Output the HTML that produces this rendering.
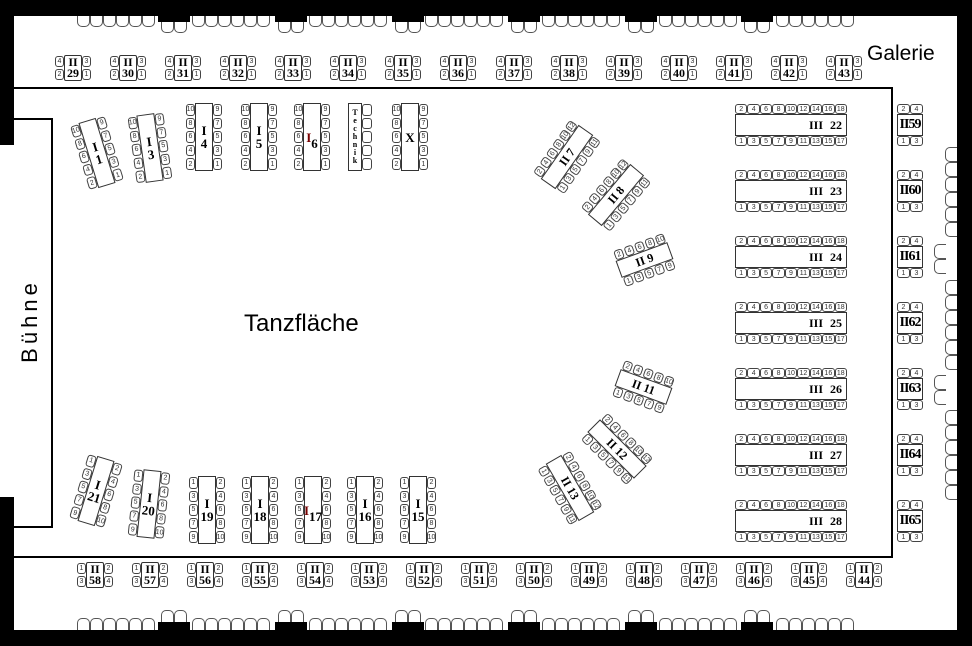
<!DOCTYPE html>
<html><head><meta charset="utf-8"><style>
*{box-sizing:border-box;margin:0;padding:0}
body{width:972px;height:646px;position:relative;background:#fff;overflow:hidden;font-family:"Liberation Sans",sans-serif}
.a{position:absolute}
.k{position:absolute;background:#000}
i{font-style:normal;border:1px solid #444;border-radius:3px;font-size:7px;line-height:9px;text-align:center;background:#fff;color:#333;overflow:hidden;display:flex;align-items:center;justify-content:center}
b{font-family:"Liberation Serif",serif;color:#000;display:flex;align-items:center;justify-content:center;text-align:center}
.g{position:absolute;width:36px;height:26px;display:grid;grid-template-columns:9px 18px 9px;grid-template-rows:13px 13px;grid-auto-flow:column}
.g i{margin:1px 0}
.g b{grid-row:span 2;border:1px solid #333;border-radius:2px;font-size:12px;line-height:11px;font-weight:bold}
.v{position:absolute;width:26px;height:42px;display:grid;grid-template-columns:13px 13px;grid-template-rows:10px 22px 10px}
.v b{grid-column:span 2;border:1px solid #333;font-size:14px;font-weight:bold;letter-spacing:-1px}
.w{position:absolute;width:112px;height:42px;display:grid;grid-template-columns:repeat(9,1fr);grid-template-rows:10px 22px 10px}
.w b{grid-column:span 9;border:1px solid #333;font-size:12px;font-weight:bold;justify-content:flex-end;padding-right:4px;word-spacing:4px}
.t{position:absolute;width:36px;height:68px;display:grid;grid-template-columns:9px 18px 9px;grid-template-rows:repeat(5,1fr);grid-auto-flow:column}
.t i{margin:1px 0}
.t b{grid-row:span 5;border:1px solid #333;font-size:13px;line-height:13px;font-weight:bold}
.h{position:absolute;display:grid;grid-template-rows:10px 18px 10px}
.h i{margin:0 1px}
.h b{border:1px solid #333;font-size:12px;font-weight:bold}
.cr{position:absolute;display:flex}
.cr span{width:13px;height:11px;border:1px solid #555;border-top:none;border-radius:0 0 5px 5px;background:#fff}
.cb{position:absolute;display:flex}
.cb span{width:13px;height:12px;border:1px solid #555;border-bottom:none;border-radius:5px 5px 0 0;background:#fff}
.cv{position:absolute;display:flex;flex-direction:column}
.cv span{width:12px;height:15px;border:1px solid #555;border-right:none;border-radius:5px 0 0 5px;background:#fff}
</style></head><body>

<div class="a" style="left:10px;top:87px;width:883px;height:471px;border:2px solid #000"></div>
<div class="a" style="left:-2px;top:118px;width:55px;height:410px;border:2px solid #000;background:#fff"></div>
<div class="a" style="left:-30px;top:308px;width:120px;height:26px;transform:rotate(-90deg);font-size:22px;letter-spacing:4px;text-align:center;line-height:26px">Bühne</div>

<div class="k" style="left:0;top:0;width:972px;height:16px"></div>
<div class="k" style="left:0;top:630px;width:972px;height:16px"></div>
<div class="k" style="left:0;top:0;width:14px;height:145px"></div>
<div class="k" style="left:0;top:497px;width:14px;height:149px"></div>
<div class="k" style="left:957px;top:0;width:15px;height:646px"></div>

<div class="cr" style="left:77px;top:16px"><span></span><span></span><span></span><span></span><span></span><span></span></div>
<div class="cr" style="left:192px;top:16px"><span></span><span></span><span></span><span></span><span></span><span></span></div>
<div class="cr" style="left:309px;top:16px"><span></span><span></span><span></span><span></span><span></span><span></span></div>
<div class="cr" style="left:425px;top:16px"><span></span><span></span><span></span><span></span><span></span><span></span></div>
<div class="cr" style="left:542px;top:16px"><span></span><span></span><span></span><span></span><span></span><span></span></div>
<div class="cr" style="left:659px;top:16px"><span></span><span></span><span></span><span></span><span></span><span></span></div>
<div class="cr" style="left:776px;top:16px"><span></span><span></span><span></span><span></span><span></span><span></span></div>
<div class="cr" style="left:161px;top:22px"><span></span><span></span></div>
<div class="cr" style="left:278px;top:22px"><span></span><span></span></div>
<div class="cr" style="left:395px;top:22px"><span></span><span></span></div>
<div class="cr" style="left:511px;top:22px"><span></span><span></span></div>
<div class="cr" style="left:628px;top:22px"><span></span><span></span></div>
<div class="cr" style="left:744px;top:22px"><span></span><span></span></div>
<div class="k" style="left:158px;top:16px;width:32px;height:6px"></div>
<div class="k" style="left:275px;top:16px;width:32px;height:6px"></div>
<div class="k" style="left:392px;top:16px;width:32px;height:6px"></div>
<div class="k" style="left:508px;top:16px;width:32px;height:6px"></div>
<div class="k" style="left:625px;top:16px;width:32px;height:6px"></div>
<div class="k" style="left:741px;top:16px;width:32px;height:6px"></div>

<div class="cb" style="left:77px;top:618px"><span></span><span></span><span></span><span></span><span></span><span></span></div>
<div class="cb" style="left:192px;top:618px"><span></span><span></span><span></span><span></span><span></span><span></span></div>
<div class="cb" style="left:309px;top:618px"><span></span><span></span><span></span><span></span><span></span><span></span></div>
<div class="cb" style="left:425px;top:618px"><span></span><span></span><span></span><span></span><span></span><span></span></div>
<div class="cb" style="left:542px;top:618px"><span></span><span></span><span></span><span></span><span></span><span></span></div>
<div class="cb" style="left:659px;top:618px"><span></span><span></span><span></span><span></span><span></span><span></span></div>
<div class="cb" style="left:776px;top:618px"><span></span><span></span><span></span><span></span><span></span><span></span></div>
<div class="cb" style="left:161px;top:610px"><span></span><span></span></div>
<div class="cb" style="left:278px;top:610px"><span></span><span></span></div>
<div class="cb" style="left:395px;top:610px"><span></span><span></span></div>
<div class="cb" style="left:511px;top:610px"><span></span><span></span></div>
<div class="cb" style="left:628px;top:610px"><span></span><span></span></div>
<div class="cb" style="left:744px;top:610px"><span></span><span></span></div>
<div class="k" style="left:158px;top:622px;width:32px;height:8px"></div>
<div class="k" style="left:275px;top:622px;width:32px;height:8px"></div>
<div class="k" style="left:392px;top:622px;width:32px;height:8px"></div>
<div class="k" style="left:508px;top:622px;width:32px;height:8px"></div>
<div class="k" style="left:625px;top:622px;width:32px;height:8px"></div>
<div class="k" style="left:741px;top:622px;width:32px;height:8px"></div>

<div class="cv" style="left:945px;top:147px"><span></span><span></span><span></span><span></span><span></span><span></span></div>
<div class="cv" style="left:934px;top:244px"><span></span><span></span></div>
<div class="cv" style="left:945px;top:280px"><span></span><span></span><span></span><span></span><span></span><span></span></div>
<div class="cv" style="left:934px;top:375px"><span></span><span></span></div>
<div class="cv" style="left:945px;top:410px"><span></span><span></span><span></span><span></span><span></span><span></span></div>

<div class="a" style="left:867px;top:42px;font-size:21px">Galerie</div>
<div class="a" style="left:244px;top:310px;font-size:24px">Tanzfläche</div>

<div class="g" style="left:55px;top:55px"><i>4</i><i>2</i><b>II<br>29</b><i>3</i><i>1</i></div>
<div class="g" style="left:110px;top:55px"><i>4</i><i>2</i><b>II<br>30</b><i>3</i><i>1</i></div>
<div class="g" style="left:165px;top:55px"><i>4</i><i>2</i><b>II<br>31</b><i>3</i><i>1</i></div>
<div class="g" style="left:220px;top:55px"><i>4</i><i>2</i><b>II<br>32</b><i>3</i><i>1</i></div>
<div class="g" style="left:275px;top:55px"><i>4</i><i>2</i><b>II<br>33</b><i>3</i><i>1</i></div>
<div class="g" style="left:330px;top:55px"><i>4</i><i>2</i><b>II<br>34</b><i>3</i><i>1</i></div>
<div class="g" style="left:385px;top:55px"><i>4</i><i>2</i><b>II<br>35</b><i>3</i><i>1</i></div>
<div class="g" style="left:440px;top:55px"><i>4</i><i>2</i><b>II<br>36</b><i>3</i><i>1</i></div>
<div class="g" style="left:496px;top:55px"><i>4</i><i>2</i><b>II<br>37</b><i>3</i><i>1</i></div>
<div class="g" style="left:551px;top:55px"><i>4</i><i>2</i><b>II<br>38</b><i>3</i><i>1</i></div>
<div class="g" style="left:606px;top:55px"><i>4</i><i>2</i><b>II<br>39</b><i>3</i><i>1</i></div>
<div class="g" style="left:661px;top:55px"><i>4</i><i>2</i><b>II<br>40</b><i>3</i><i>1</i></div>
<div class="g" style="left:716px;top:55px"><i>4</i><i>2</i><b>II<br>41</b><i>3</i><i>1</i></div>
<div class="g" style="left:771px;top:55px"><i>4</i><i>2</i><b>II<br>42</b><i>3</i><i>1</i></div>
<div class="g" style="left:826px;top:55px"><i>4</i><i>2</i><b>II<br>43</b><i>3</i><i>1</i></div>

<div class="g" style="left:77px;top:562px"><i>1</i><i>3</i><b>II<br>58</b><i>2</i><i>4</i></div>
<div class="g" style="left:132px;top:562px"><i>1</i><i>3</i><b>II<br>57</b><i>2</i><i>4</i></div>
<div class="g" style="left:187px;top:562px"><i>1</i><i>3</i><b>II<br>56</b><i>2</i><i>4</i></div>
<div class="g" style="left:242px;top:562px"><i>1</i><i>3</i><b>II<br>55</b><i>2</i><i>4</i></div>
<div class="g" style="left:297px;top:562px"><i>1</i><i>3</i><b>II<br>54</b><i>2</i><i>4</i></div>
<div class="g" style="left:351px;top:562px"><i>1</i><i>3</i><b>II<br>53</b><i>2</i><i>4</i></div>
<div class="g" style="left:406px;top:562px"><i>1</i><i>3</i><b>II<br>52</b><i>2</i><i>4</i></div>
<div class="g" style="left:461px;top:562px"><i>1</i><i>3</i><b>II<br>51</b><i>2</i><i>4</i></div>
<div class="g" style="left:516px;top:562px"><i>1</i><i>3</i><b>II<br>50</b><i>2</i><i>4</i></div>
<div class="g" style="left:571px;top:562px"><i>1</i><i>3</i><b>II<br>49</b><i>2</i><i>4</i></div>
<div class="g" style="left:626px;top:562px"><i>1</i><i>3</i><b>II<br>48</b><i>2</i><i>4</i></div>
<div class="g" style="left:681px;top:562px"><i>1</i><i>3</i><b>II<br>47</b><i>2</i><i>4</i></div>
<div class="g" style="left:736px;top:562px"><i>1</i><i>3</i><b>II<br>46</b><i>2</i><i>4</i></div>
<div class="g" style="left:791px;top:562px"><i>1</i><i>3</i><b>II<br>45</b><i>2</i><i>4</i></div>
<div class="g" style="left:846px;top:562px"><i>1</i><i>3</i><b>II<br>44</b><i>2</i><i>4</i></div>

<div class="w" style="left:735px;top:104px"><i>2</i><i>4</i><i>6</i><i>8</i><i>10</i><i>12</i><i>14</i><i>16</i><i>18</i><b>III 22</b><i>1</i><i>3</i><i>5</i><i>7</i><i>9</i><i>11</i><i>13</i><i>15</i><i>17</i></div>
<div class="w" style="left:735px;top:170px"><i>2</i><i>4</i><i>6</i><i>8</i><i>10</i><i>12</i><i>14</i><i>16</i><i>18</i><b>III 23</b><i>1</i><i>3</i><i>5</i><i>7</i><i>9</i><i>11</i><i>13</i><i>15</i><i>17</i></div>
<div class="w" style="left:735px;top:236px"><i>2</i><i>4</i><i>6</i><i>8</i><i>10</i><i>12</i><i>14</i><i>16</i><i>18</i><b>III 24</b><i>1</i><i>3</i><i>5</i><i>7</i><i>9</i><i>11</i><i>13</i><i>15</i><i>17</i></div>
<div class="w" style="left:735px;top:302px"><i>2</i><i>4</i><i>6</i><i>8</i><i>10</i><i>12</i><i>14</i><i>16</i><i>18</i><b>III 25</b><i>1</i><i>3</i><i>5</i><i>7</i><i>9</i><i>11</i><i>13</i><i>15</i><i>17</i></div>
<div class="w" style="left:735px;top:368px"><i>2</i><i>4</i><i>6</i><i>8</i><i>10</i><i>12</i><i>14</i><i>16</i><i>18</i><b>III 26</b><i>1</i><i>3</i><i>5</i><i>7</i><i>9</i><i>11</i><i>13</i><i>15</i><i>17</i></div>
<div class="w" style="left:735px;top:434px"><i>2</i><i>4</i><i>6</i><i>8</i><i>10</i><i>12</i><i>14</i><i>16</i><i>18</i><b>III 27</b><i>1</i><i>3</i><i>5</i><i>7</i><i>9</i><i>11</i><i>13</i><i>15</i><i>17</i></div>
<div class="w" style="left:735px;top:500px"><i>2</i><i>4</i><i>6</i><i>8</i><i>10</i><i>12</i><i>14</i><i>16</i><i>18</i><b>III 28</b><i>1</i><i>3</i><i>5</i><i>7</i><i>9</i><i>11</i><i>13</i><i>15</i><i>17</i></div>

<div class="v" style="left:897px;top:104px"><i>2</i><i>4</i><b>II59</b><i>1</i><i>3</i></div>
<div class="v" style="left:897px;top:170px"><i>2</i><i>4</i><b>II60</b><i>1</i><i>3</i></div>
<div class="v" style="left:897px;top:236px"><i>2</i><i>4</i><b>II61</b><i>1</i><i>3</i></div>
<div class="v" style="left:897px;top:302px"><i>2</i><i>4</i><b>II62</b><i>1</i><i>3</i></div>
<div class="v" style="left:897px;top:368px"><i>2</i><i>4</i><b>II63</b><i>1</i><i>3</i></div>
<div class="v" style="left:897px;top:434px"><i>2</i><i>4</i><b>II64</b><i>1</i><i>3</i></div>
<div class="v" style="left:897px;top:500px"><i>2</i><i>4</i><b>II65</b><i>1</i><i>3</i></div>

<div class="t" style="left:79px;top:119px;transform:rotate(-17deg)"><i>10</i><i>8</i><i>6</i><i>4</i><i>2</i><b>I<br>1</b><i>9</i><i>7</i><i>5</i><i>3</i><i>1</i></div>
<div class="t" style="left:132px;top:114px;transform:rotate(-8deg)"><i>10</i><i>8</i><i>6</i><i>4</i><i>2</i><b>I<br>3</b><i>9</i><i>7</i><i>5</i><i>3</i><i>1</i></div>
<div class="t" style="left:186px;top:103px"><i>10</i><i>8</i><i>6</i><i>4</i><i>2</i><b>I<br>4</b><i>9</i><i>7</i><i>5</i><i>3</i><i>1</i></div>
<div class="t" style="left:241px;top:103px"><i>10</i><i>8</i><i>6</i><i>4</i><i>2</i><b>I<br>5</b><i>9</i><i>7</i><i>5</i><i>3</i><i>1</i></div>
<div class="t" style="left:294px;top:103px"><i>10</i><i>8</i><i>6</i><i>4</i><i>2</i><b><span style="color:#700">I</span><br>6</b><i>9</i><i>7</i><i>5</i><i>3</i><i>1</i></div>
<div class="t" style="left:348px;top:103px;width:24px;grid-template-columns:14px 10px"><b style="grid-row:span 5;font-size:8px;line-height:8px">T<br>e<br>c<br>h<br>n<br>i<br>k</b><i>&nbsp;</i><i>&nbsp;</i><i>&nbsp;</i><i>&nbsp;</i><i>&nbsp;</i></div>
<div class="t" style="left:392px;top:103px"><i>10</i><i>8</i><i>6</i><i>4</i><i>2</i><b>X</b><i>9</i><i>7</i><i>5</i><i>3</i><i>1</i></div>

<div class="t" style="left:78px;top:457px;transform:rotate(17deg)"><i>1</i><i>3</i><i>5</i><i>7</i><i>9</i><b>I<br>21</b><i>2</i><i>4</i><i>6</i><i>8</i><i>10</i></div>
<div class="t" style="left:131px;top:470px;transform:rotate(6deg)"><i>1</i><i>3</i><i>5</i><i>7</i><i>9</i><b>I<br>20</b><i>2</i><i>4</i><i>6</i><i>8</i><i>10</i></div>
<div class="t" style="left:189px;top:476px"><i>1</i><i>3</i><i>5</i><i>7</i><i>9</i><b>I<br>19</b><i>2</i><i>4</i><i>6</i><i>8</i><i>10</i></div>
<div class="t" style="left:242px;top:476px"><i>1</i><i>3</i><i>5</i><i>7</i><i>9</i><b>I<br>18</b><i>2</i><i>4</i><i>6</i><i>8</i><i>10</i></div>
<div class="t" style="left:295px;top:476px"><i>1</i><i>3</i><i>5</i><i>7</i><i>9</i><b><span style="color:#700">I</span><br>17</b><i>2</i><i>4</i><i>6</i><i>8</i><i>10</i></div>
<div class="t" style="left:347px;top:476px"><i>1</i><i>3</i><i>5</i><i>7</i><i>9</i><b>I<br>16</b><i>2</i><i>4</i><i>6</i><i>8</i><i>10</i></div>
<div class="t" style="left:400px;top:476px"><i>1</i><i>3</i><i>5</i><i>7</i><i>9</i><b>I<br>15</b><i>2</i><i>4</i><i>6</i><i>8</i><i>10</i></div>

<div class="h" style="left:534px;top:138px;width:66px;grid-template-columns:repeat(6,11px);transform:rotate(-55deg)"><i>2</i><i>4</i><i>6</i><i>8</i><i>10</i><i>12</i><b style="grid-column:span 6">II 7</b><i>1</i><i>3</i><i>5</i><i>7</i><i>9</i><i>11</i></div>
<div class="h" style="left:583px;top:176px;width:66px;grid-template-columns:repeat(6,11px);transform:rotate(-50deg)"><i>2</i><i>4</i><i>6</i><i>8</i><i>10</i><i>12</i><b style="grid-column:span 6">II 8</b><i>1</i><i>3</i><i>5</i><i>7</i><i>9</i><i>11</i></div>
<div class="h" style="left:617px;top:241px;width:55px;grid-template-columns:repeat(5,11px);transform:rotate(-20deg)"><i>2</i><i>4</i><i>6</i><i>8</i><i>10</i><b style="grid-column:span 5">II 9</b><i>1</i><i>3</i><i>5</i><i>7</i><i>9</i></div>
<div class="h" style="left:616px;top:368px;width:55px;grid-template-columns:repeat(5,11px);transform:rotate(20deg)"><i>2</i><i>4</i><i>6</i><i>8</i><i>10</i><b style="grid-column:span 5">II 11</b><i>1</i><i>3</i><i>5</i><i>7</i><i>9</i></div>
<div class="h" style="left:584px;top:430px;width:66px;grid-template-columns:repeat(6,11px);transform:rotate(45deg)"><i>2</i><i>4</i><i>6</i><i>8</i><i>10</i><i>12</i><b style="grid-column:span 6">II 12</b><i>1</i><i>3</i><i>5</i><i>7</i><i>9</i><i>11</i></div>
<div class="h" style="left:537px;top:469px;width:66px;grid-template-columns:repeat(6,11px);transform:rotate(60deg)"><i>2</i><i>4</i><i>6</i><i>8</i><i>10</i><i>12</i><b style="grid-column:span 6">II 13</b><i>1</i><i>3</i><i>5</i><i>7</i><i>9</i><i>11</i></div>

</body></html>
